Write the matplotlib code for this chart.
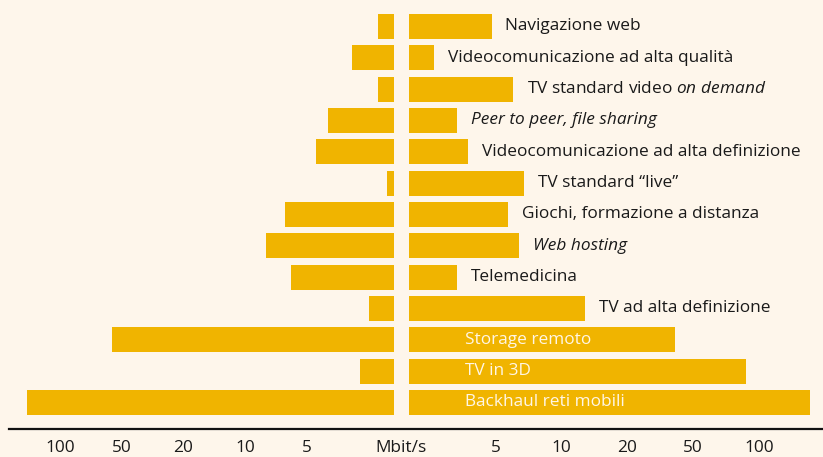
import numpy as np
import matplotlib
matplotlib.use("Agg")
import matplotlib.pyplot as plt
from matplotlib.lines import Line2D

plt.rcParams['font.family'] = ['Open Sans', 'DejaVu Sans']
plt.rcParams['mathtext.fontset'] = 'custom'
plt.rcParams['mathtext.rm'] = 'Open Sans'
plt.rcParams['mathtext.it'] = 'Open Sans:italic'

# ---- data ----
categories = [
    "Navigazione web",
    "Videocomunicazione ad alta qualità",
    r"TV standard video $\mathit{on\ demand}$",
    "Peer to peer, file sharing",
    "Videocomunicazione ad alta definizione",
    "TV standard \u201clive\u201d",
    "Giochi, formazione a distanza",
    "Web hosting",
    "Telemedicina",
    "TV ad alta definizione",
    "Storage remoto",
    "TV in 3D",
    "Backhaul reti mobili",
]
italic = [False, False, False, True, False, False, False, True, False, False, False, False, False]
inside = [False] * 10 + [True] * 3
upload = [1.8, 2.55, 1.8, 3.65, 4.4, 1.63, 6.4, 7.9, 6.0, 2.0, 56, 2.27, 145]
download = [4.7, 2.1, 6.0, 2.9, 3.4, 6.7, 5.7, 6.4, 2.9, 12.8, 39, 87, 171]
tick_values = [5, 10, 20, 50, 100]
tick_labels = ["5", "10", "20", "50", "100"]
unit_label = "Mbit/s"

# ---- pseudo-log scale (1-2-5 steps equally spaced) ----
SEQ = np.array([0.5, 1, 2, 5, 10, 20, 50, 100, 200, 500, 1000])
LOGS = np.log10(SEQ)
IDX = np.arange(len(SEQ)) - 3.0  # 5 -> 0


def fwd(v):
    v = np.asarray(v, dtype=float)
    return np.interp(np.log10(np.clip(v, 1e-6, None)), LOGS, IDX)


def inv(i):
    i = np.asarray(i, dtype=float)
    return 10 ** np.interp(i, IDX, LOGS)


BG = "#FEF6EB"
BAR = "#F0B400"
TXT = "#1a1a1a"
FS = 12.4
PAD = 8

W, H = 823, 457
fig = plt.figure(figsize=(W / 100, H / 100), dpi=100, facecolor=BG)

bottom_px = 429.3
ax_bottom = 1 - bottom_px / H
ax_height = bottom_px / H

# left axes: px 9 .. 394
axL = fig.add_axes([9 / W, ax_bottom, (394 - 9) / W, ax_height])
# right axes: px 409 .. 823
axR = fig.add_axes([409 / W, ax_bottom, (823 - 409) / W, ax_height])

n = len(categories)
y = np.arange(n)
pitch = 31.33
k_top = -26.5 / pitch
k_bot = (bottom_px - 26.5) / pitch

for ax in (axL, axR):
    ax.set_facecolor("none")
    ax.set_xscale("function", functions=(fwd, inv))
    ax.set_ylim(k_bot, k_top)
    for s in ax.spines.values():
        s.set_visible(False)
    ax.set_yticks([])
    ax.set_xticks(tick_values)
    ax.set_xticklabels(tick_labels)
    ax.xaxis.set_minor_locator(matplotlib.ticker.NullLocator())
    ax.tick_params(axis="x", length=0, pad=PAD, labelsize=FS, labelcolor=TXT)

# left limits (inverted)
L_lo = float(inv((307 - 394) / 61.75))
L_hi = float(inv((307 - 9) / 61.75))
axL.set_xlim(L_hi, L_lo)
R_lo = float(inv((409 - 496) / 65.75))
R_hi = float(inv((823 - 496) / 65.75))
axR.set_xlim(R_lo, R_hi)

up = np.array(upload)
dn = np.array(download)
axL.barh(y, up - L_lo, left=L_lo, height=0.8, color=BAR, linewidth=0)
axR.barh(y, dn - R_lo, left=R_lo, height=0.8, color=BAR, linewidth=0)

for k in range(n):
    if inside[k]:
        axR.text((465 - 409) / (823 - 409), y[k], categories[k],
                 transform=axR.get_yaxis_transform(), ha="left", va="center",
                 fontsize=FS, color="#FFF6E6")
    else:
        axR.annotate(categories[k], xy=(dn[k], y[k]), xytext=(10, 0),
                     textcoords="offset points", ha="left", va="center",
                     fontsize=FS, color=TXT,
                     style="italic" if italic[k] else "normal")

fig.text(401 / W, 1 - (bottom_px + PAD * 100 / 72) / H, unit_label,
         ha="center", va="top", fontsize=FS, color=TXT)

fig.add_artist(Line2D([9 / W, 1], [ax_bottom, ax_bottom], transform=fig.transFigure,
                      color="#111111", linewidth=1.6))

fig.savefig("out.png", dpi=100, facecolor=BG)
